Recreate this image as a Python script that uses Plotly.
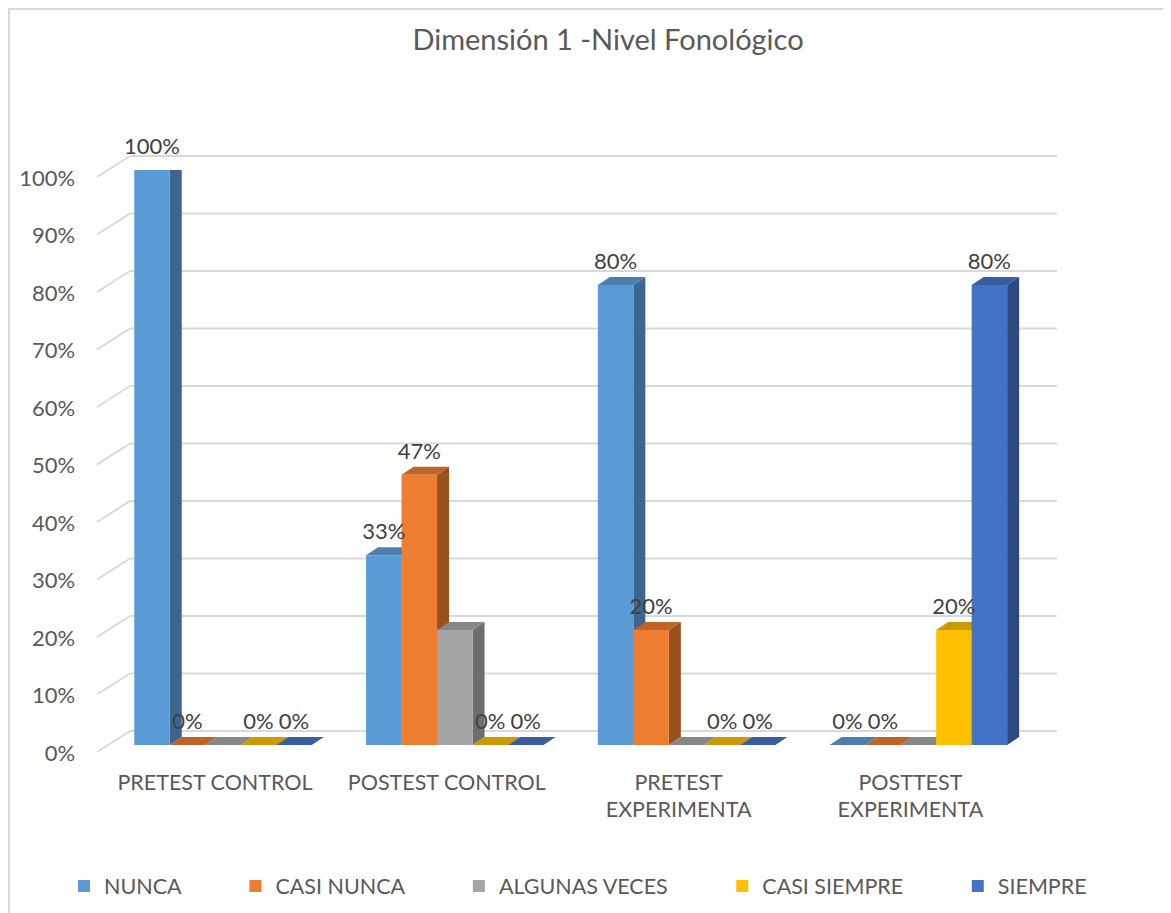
import plotly.graph_objects as go

# --- data ---------------------------------------------------------------
categories = ["PRETEST CONTROL", "POSTEST CONTROL", "PRETEST<br>EXPERIMENTA", "POSTTEST<br>EXPERIMENTA"]
series_names = ["NUNCA", "CASI NUNCA", "ALGUNAS VECES", "CASI SIEMPRE", "SIEMPRE"]
nunca = [1.00, 0.33, 0.80, 0.00]
casi_nunca = [0.00, 0.47, 0.20, 0.00]
algunas_veces = [0.00, 0.20, 0.00, 0.00]
casi_siempre = [0.00, 0.00, 0.00, 0.20]
siempre = [0.00, 0.00, 0.00, 0.80]
y_ticks = [0.0, 0.1, 0.2, 0.3, 0.4, 0.5, 0.6, 0.7, 0.8, 0.9, 1.0]
labelled = [True, True, False, True, True]  # ALGUNAS VECES has no data labels

series_values = [nunca, casi_nunca, algunas_veces, casi_siempre, siempre]
front_colors = ["#5B9BD5", "#ED7D31", "#A5A5A5", "#FFC000", "#4472C4"]
top_colors = ["#4B7FAF", "#BE6427", "#878787", "#CC9A00", "#385DA1"]
side_colors = ["#3C668D", "#9A5120", "#6E6E6E", "#A67D00", "#2C4A7F"]

W, H = 1171, 913
OFF = 8                                 # page body margin the figure sits in
TXT = "#595959"
FONT = "Lato"

# pixel geometry of the 3D look (front plane of bars, back wall, floor edge)
front_x0, front_x1 = 107.1, 1034.3
front_y0, front_y1 = 745, 170          # 0% and 100% on the bar front plane
wall_x0, wall_x1 = 130, 1057
wall_y0, wall_y1 = 731, 156
floor_x = 97
floor_drop = 21                         # floor edge below the wall level
depth_px = (12, 8)                      # bar depth offset (right, up)

n_cat = len(categories)
n_ser = len(series_names)
bar_w = 35.5 / ((front_x1 - front_x0) / n_cat)
dx = depth_px[0] / ((front_x1 - front_x0) / n_cat)
dy = depth_px[1] / (front_y0 - front_y1)


def px_x(v):
    return (v - OFF) / W


def px_y(v):
    return (H - (v - OFF)) / H


fig = go.Figure()

# depth faces (side + top) drawn behind all front faces
for k in range(n_ser):
    off = -n_ser * bar_w / 2 + k * bar_w
    side_x, side_y, top_x, top_y = [], [], [], []
    for i, v in enumerate(series_values[k]):
        x0 = i + off
        x1 = x0 + bar_w
        side_x += [x1, x1 + dx, x1 + dx, x1, x1, None]
        side_y += [0, dy, v + dy, v, 0, None]
        top_x += [x0, x1, x1 + dx, x0 + dx, x0, None]
        top_y += [v, v, v + dy, v + dy, v, None]
    for xs, ys, col in ((side_x, side_y, side_colors[k]), (top_x, top_y, top_colors[k])):
        fig.add_trace(go.Scatter(
            x=xs, y=ys, mode="lines", fill="toself", fillcolor=col,
            line=dict(width=0, color=col), showlegend=False, hoverinfo="skip",
            xaxis="x", yaxis="y",
        ))

# front faces
pad = "\u00a0" * 9
for k in range(n_ser):
    off = -n_ser * bar_w / 2 + (k + 0.5) * bar_w
    fig.add_trace(go.Bar(
        x=[i + off for i in range(n_cat)], y=series_values[k], width=bar_w,
        name=series_names[k] + (pad if k < n_ser - 1 else ""),
        marker=dict(color=front_colors[k], line=dict(width=0)),
        xaxis="x2", yaxis="y2", hoverinfo="skip",
    ))

# data labels
for k in range(n_ser):
    if not labelled[k]:
        continue
    off = -n_ser * bar_w / 2 + (k + 0.5) * bar_w
    fig.add_trace(go.Scatter(
        x=[i + off for i in range(n_cat)], y=series_values[k], mode="markers+text",
        text=[f"{round(v * 100)}%" for v in series_values[k]], textposition="top center",
        textfont=dict(family=FONT, size=22, color="#404040"),
        marker=dict(size=15, opacity=0), showlegend=False, hoverinfo="skip",
        cliponaxis=False, xaxis="x2", yaxis="y2",
    ))

# back wall gridlines and slanted floor edges
shapes = []
for t in y_ticks:
    wy = wall_y0 - t * (wall_y0 - wall_y1)
    shapes.append(dict(
        type="line", xref="paper", yref="paper", layer="below",
        x0=px_x(floor_x), y0=px_y(wy + floor_drop), x1=px_x(wall_x0), y1=px_y(wy),
        line=dict(color="#D9D9D9", width=2),
    ))
    shapes.append(dict(
        type="line", xref="paper", yref="paper", layer="below",
        x0=px_x(wall_x0), y0=px_y(wy), x1=px_x(wall_x1), y1=px_y(wy),
        line=dict(color="#D9D9D9", width=2),
    ))
# chart border (as close to the page corner as the figure allows)
shapes.append(dict(
    type="rect", xref="paper", yref="paper", x0=1 / W, y0=-0.1, x1=1.1, y1=1 - 1 / H,
    line=dict(color="#D9D9D9", width=2),
))

hidden = dict(showgrid=False, zeroline=False, showticklabels=False, showline=False, fixedrange=True)
fig.update_layout(
    width=W, height=H,
    margin=dict(l=0, r=0, t=0, b=0, autoexpand=False),
    paper_bgcolor="white", plot_bgcolor="rgba(0,0,0,0)",
    barmode="overlay", hovermode=False,
    font=dict(family=FONT, size=22, color=TXT),
    title=dict(text="Dimensión 1 -Nivel Fonológico", x=px_x(608), y=px_y(40),
               xanchor="center", yanchor="middle", font=dict(family=FONT, size=29, color=TXT)),
    # depth faces
    xaxis=dict(domain=[px_x(front_x0), px_x(front_x1)], range=[-0.5, n_cat - 0.5], anchor="y", **hidden),
    yaxis=dict(domain=[px_y(front_y0), px_y(front_y1)], range=[0, 1], anchor="x", **hidden),
    # bar fronts, axis labels
    xaxis2=dict(domain=[px_x(front_x0), px_x(front_x1)], range=[-0.5, n_cat - 0.5], anchor="y2",
                tickvals=list(range(n_cat)), ticktext=categories, ticklabelshift=-8,
                ticklabelstandoff=22, showgrid=False, zeroline=False, showline=False, fixedrange=True,
                tickfont=dict(family=FONT, size=21.5, color=TXT)),
    yaxis2=dict(domain=[px_y(front_y0), px_y(front_y1)], range=[0, 1], anchor="x2",
                tickvals=y_ticks, tickformat=".0%", ticklabelshift=8, ticklabelstandoff=31,
                showgrid=False, zeroline=False, showline=False, fixedrange=True,
                tickfont=dict(family=FONT, size=22, color=TXT)),
    legend=dict(orientation="h", x=px_x(64), xanchor="left", y=px_y(886), yanchor="middle",
                bgcolor="rgba(0,0,0,0)", font=dict(family=FONT, size=21.5, color=TXT)),
    shapes=shapes,
)

fig.write_html("out.html")
